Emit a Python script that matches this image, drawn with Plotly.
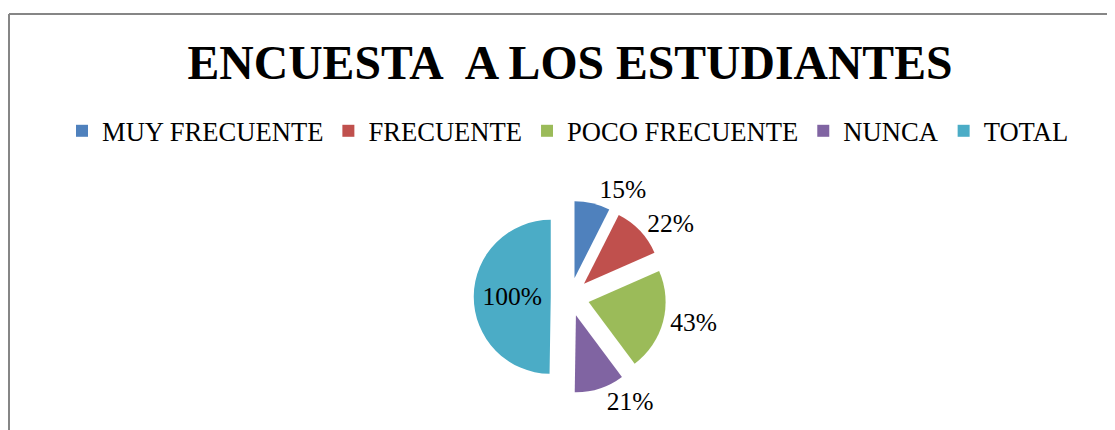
import plotly.graph_objects as go

# Encuesta a los estudiantes (porcentajes por respuesta)
categorias = ["MUY FRECUENTE", "FRECUENTE", "POCO FRECUENTE", "NUNCA", "TOTAL"]
porcentajes = [15, 22, 43, 21, 100]
colores = ["#4F81BD", "#C0504D", "#9BBB59", "#8064A2", "#4BACC6"]
titulo = "ENCUESTA\u00a0 A LOS ESTUDIANTES"

W, H = 1115, 430
OFF = 8  # the page puts the figure 8px in from the top-left corner
serif = "Liberation Serif, Times New Roman, serif"


def px(x):
    return (x - OFF) / W


def py(y):
    return 1 - (y - OFF) / H


fig = go.Figure(go.Pie(
    labels=categorias, values=porcentajes,
    marker=dict(colors=colores, line=dict(width=0)),
    sort=False, direction="clockwise", rotation=0,
    pull=[0.25] * len(porcentajes),
    texttemplate="%{value}%",
    textposition=["outside", "outside", "outside", "outside", "inside"],
    insidetextorientation="horizontal",
    textfont=dict(family=serif, size=25.5, color="black"),
    domain=dict(x=[px(473.75), px(666.25)], y=[py(393.25), py(200.75)]),
    hoverinfo="label+value",
))

fig.update_layout(
    width=W, height=H,
    margin=dict(l=0, r=0, t=0, b=0, autoexpand=False),
    paper_bgcolor="white", plot_bgcolor="white",
    font=dict(family=serif, color="black"),
    title=dict(
        text=titulo, x=px(570), xanchor="center", y=py(62), yanchor="middle",
        font=dict(family=serif, size=47.7, color="black", weight="bold"),
    ),
    showlegend=True,
    legend=dict(
        orientation="h", x=px(568), xanchor="center", y=py(131), yanchor="middle",
        font=dict(family=serif, size=26.6, color="black"),
        bgcolor="rgba(0,0,0,0)",
    ),
    shapes=[
        dict(type="line", xref="paper", yref="paper", x0=px(9), x1=px(9), y0=-0.1, y1=py(14),
             line=dict(color="#868686", width=2)),
        dict(type="line", xref="paper", yref="paper", x0=px(9), x1=1.1, y0=py(14), y1=py(14),
             line=dict(color="#868686", width=2)),
    ],
)

fig.write_html("out.html")
